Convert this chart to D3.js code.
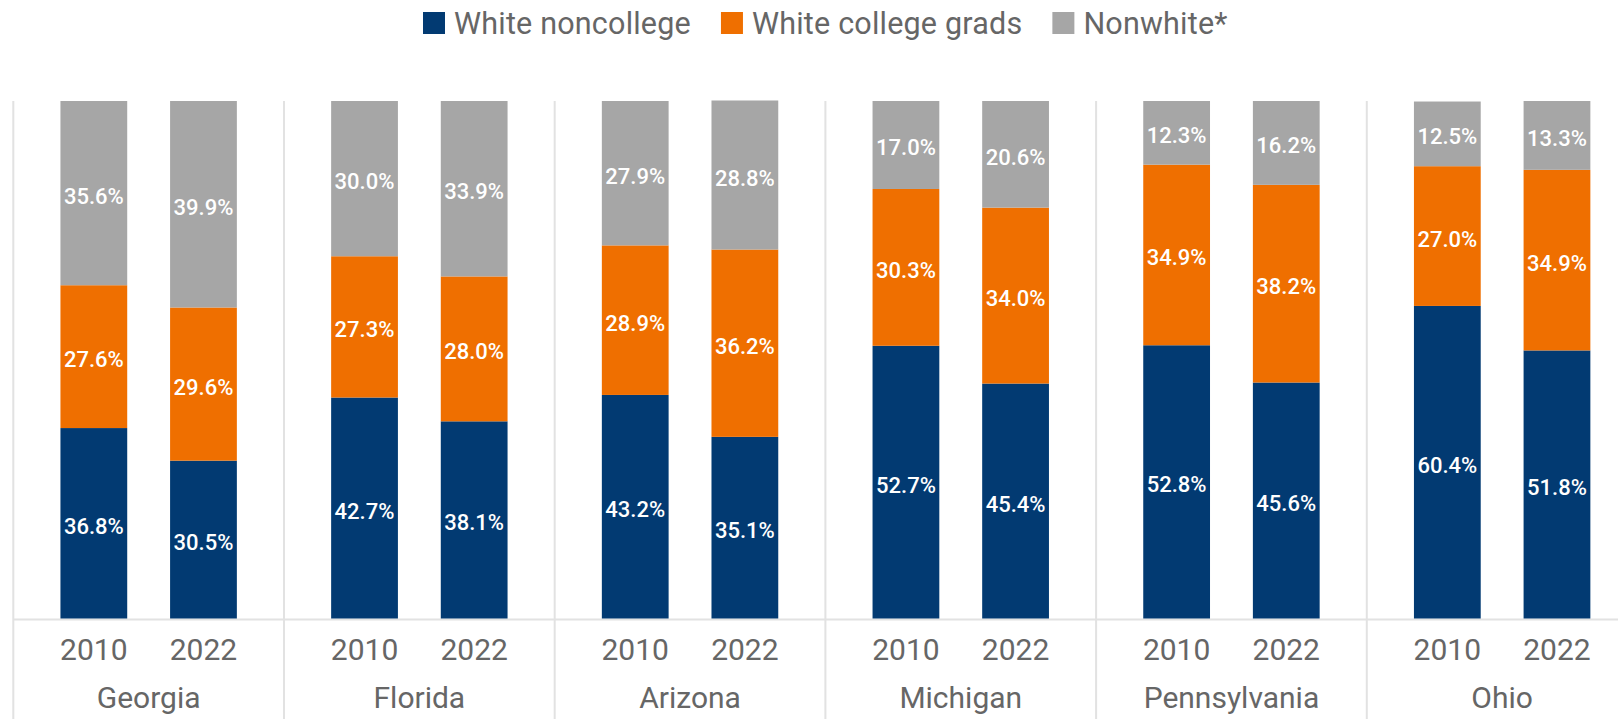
<!DOCTYPE html>
<html>
<head>
<meta charset="utf-8">
<script src="https://cdn.jsdelivr.net/npm/d3@7"></script>
<style>
  html, body { margin: 0; padding: 0; background: #fff; overflow: hidden; }
  svg { display: block; font-family: Roboto, "Noto Sans", sans-serif; }
</style>
</head>
<body>
<svg id="chart" width="1618" height="719"></svg>
<script>
const states = ["Georgia", "Florida", "Arizona", "Michigan", "Pennsylvania", "Ohio"];
const years = ["2010", "2022"];
const seriesNames = ["White noncollege", "White college grads", "Nonwhite*"];
const seriesColors = ["#023a72", "#ef6f00", "#a6a6a6"];
// values per state, per year [2010, 2022]
const whiteNoncollege = [[36.8, 30.5], [42.7, 38.1], [43.2, 35.1], [52.7, 45.4], [52.8, 45.6], [60.4, 51.8]];
const whiteCollegeGrads = [[27.6, 29.6], [27.3, 28.0], [28.9, 36.2], [30.3, 34.0], [34.9, 38.2], [27.0, 34.9]];
const nonwhite = [[35.6, 39.9], [30.0, 33.9], [27.9, 28.8], [17.0, 20.6], [12.3, 16.2], [12.5, 13.3]];

(function () {
const rows = [];
states.forEach((s, i) => {
  years.forEach((yr, j) => {
    rows.push({ state: s, year: yr,
      "White noncollege": whiteNoncollege[i][j],
      "White college grads": whiteCollegeGrads[i][j],
      "Nonwhite*": nonwhite[i][j] });
  });
});

const svg = d3.select("#chart");
const plotLeft = 13.3, groupW = 270.7;
const plotTop = 101, plotBottom = 618.5;

const x0 = d3.scaleBand().domain(states).range([plotLeft, plotLeft + groupW * states.length]).padding(0);
const x1 = d3.scaleBand().domain(years).range([0, groupW]).paddingInner(0.391).paddingOuter(0.43);
const y = d3.scaleLinear().domain([0, 100]).range([plotBottom, plotTop]);
const color = d3.scaleOrdinal().domain(seriesNames).range(seriesColors);

const stacked = d3.stack().keys(seriesNames)(rows);

// separators
const sepX = states.map(s => x0(s)).concat([x0(states[states.length - 1]) + x0.bandwidth()]);
svg.append("g").selectAll("line").data(sepX).join("line")
  .attr("x1", d => d).attr("x2", d => d)
  .attr("y1", plotTop).attr("y2", 719)
  .attr("stroke", "#e2e2e2").attr("stroke-width", 2);

// baseline
svg.append("line")
  .attr("x1", plotLeft).attr("x2", 1618)
  .attr("y1", plotBottom + 1).attr("y2", plotBottom + 1)
  .attr("stroke", "#e2e2e2").attr("stroke-width", 2);

// bars
const layers = svg.append("g").selectAll("g").data(stacked).join("g")
  .attr("fill", d => color(d.key));
layers.selectAll("rect").data(d => d).join("rect")
  .attr("x", d => x0(d.data.state) + x1(d.data.year))
  .attr("width", x1.bandwidth())
  .attr("y", d => y(d[1]))
  .attr("height", d => y(d[0]) - y(d[1]));

// value labels
const labelG = svg.append("g");
stacked.forEach(layer => {
  labelG.selectAll(null).data(layer).join("text")
    .attr("x", d => x0(d.data.state) + x1(d.data.year) + x1.bandwidth() / 2)
    .attr("y", d => (y(d[0]) + y(d[1])) / 2 + 3)
    .attr("text-anchor", "middle")
    .attr("dominant-baseline", "central")
    .attr("fill", "#ffffff")
    .attr("font-size", 22)
    .attr("font-weight", 500)
    .text(d => d.data[layer.key].toFixed(1) + "%");
});

// year labels
svg.append("g").selectAll("text").data(rows).join("text")
  .attr("x", d => x0(d.state) + x1(d.year) + x1.bandwidth() / 2)
  .attr("y", 660)
  .attr("text-anchor", "middle")
  .attr("fill", "#666")
  .attr("font-size", 30)
  .text(d => d.year);

// state labels
svg.append("g").selectAll("text").data(states).join("text")
  .attr("x", d => x0(d) + x0.bandwidth() / 2)
  .attr("y", 708)
  .attr("text-anchor", "middle")
  .attr("fill", "#666")
  .attr("font-size", 30)
  .text(d => d);

// legend
const legend = svg.append("g");
let lx = 423;
seriesNames.forEach(name => {
  legend.append("rect").attr("x", lx).attr("y", 12).attr("width", 22).attr("height", 22)
    .attr("fill", color(name));
  const t = legend.append("text").attr("x", lx + 31).attr("y", 33.5)
    .attr("fill", "#666").attr("font-size", 30.5).attr("letter-spacing", 0.2).text(name);
  lx += 31 + t.node().getComputedTextLength() + 30;
});
})();
</script>
</body>
</html>
